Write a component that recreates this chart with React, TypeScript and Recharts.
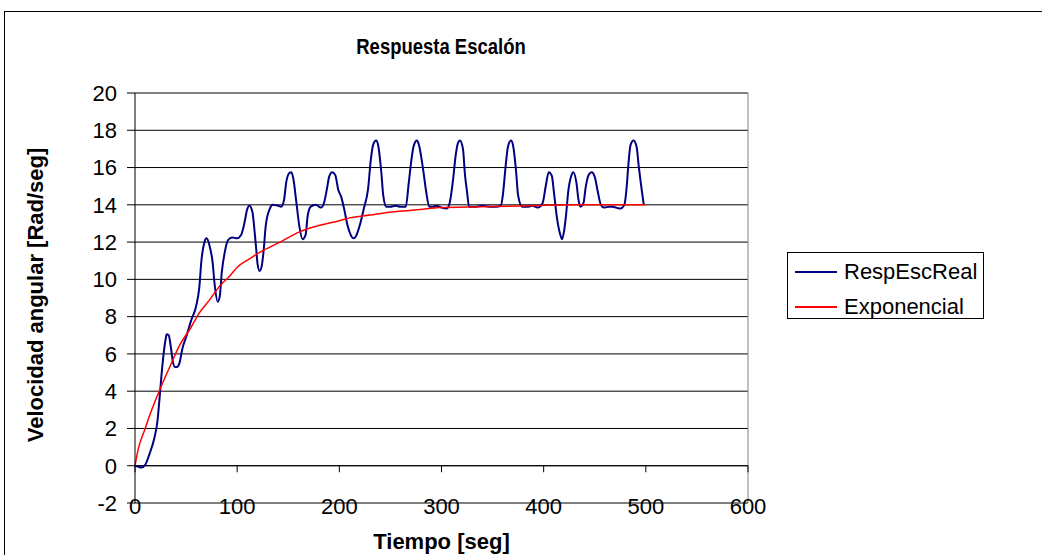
import React from 'react';
import { LineChart, Line, XAxis, YAxis, CartesianGrid, Legend, ReferenceLine } from 'recharts';

const FONT = '"Liberation Sans", Arial, sans-serif';

const xTicks = [0, 100, 200, 300, 400, 500, 600];
const yTicks = [-2, 0, 2, 4, 6, 8, 10, 12, 14, 16, 18, 20];
const seriesNames = ['RespEscReal', 'Exponencial'];

// RespEscReal: measured step response (seconds, rad/s)
const realTimes = [
  0, 3, 6, 10, 14, 19, 22, 24, 26, 28, 30, 31, 33, 35, 37, 39, 41, 44, 46, 50,
  55, 60, 63, 65, 68, 70, 73, 76, 78, 81, 83, 85, 88, 91, 95, 100, 104, 107, 110, 112,
  115, 117, 119, 120, 122, 124, 126, 128, 132, 135, 140, 143, 146, 148, 151, 153, 155, 158, 161, 164,
  167, 169, 172, 177, 182, 185, 188, 190, 193, 196, 199, 202, 205, 208, 211, 214, 217, 220, 224, 228,
  231, 233, 236, 238, 241, 243, 246, 250, 255, 260, 265, 268, 271, 273, 276, 278, 282, 285, 288, 292,
  295, 300, 305, 308, 311, 314, 316, 318, 321, 323, 325, 327, 334, 340, 347, 353, 358, 360, 363, 365,
  368, 370, 373, 375, 379, 384, 389, 394, 399, 402, 405, 408, 410, 413, 416, 418, 420, 422, 424, 427,
  429, 432, 434, 436, 439, 441, 444, 447, 450, 453, 456, 459, 464, 467, 471, 475, 479, 481, 483, 485,
  488, 491, 493, 495, 498,
];
const realValues = [
  0, -0.05, -0.1, 0.05, 0.6, 1.5, 2.4, 3.6, 4.9, 6.0, 6.8, 7.05, 7.0, 6.4, 5.6, 5.3, 5.3, 5.6, 6.2, 6.9,
  7.8, 8.6, 9.6, 11.0, 12.0, 12.2, 11.8, 10.9, 9.7, 8.8, 9.1, 10.4, 11.5, 12.1, 12.25, 12.2, 12.4, 13.0, 13.8, 13.95,
  13.6, 12.6, 11.4, 10.8, 10.45, 10.7, 11.6, 12.9, 13.8, 14.0, 13.95, 13.9, 14.3, 15.2, 15.7, 15.75, 15.4, 14.1, 12.8, 12.15,
  12.4, 13.4, 13.9, 14.0, 13.85, 14.1, 14.9, 15.5, 15.75, 15.6, 14.8, 14.4, 13.7, 12.9, 12.4, 12.2, 12.4, 12.9, 13.8, 14.8,
  16.5, 17.2, 17.45, 17.2, 15.8, 14.5, 13.9, 13.9, 13.95, 13.9, 13.9, 15.2, 16.6, 17.2, 17.45, 17.2, 15.9, 14.7, 13.9, 13.9,
  13.95, 13.85, 13.8, 14.1, 15.2, 16.7, 17.3, 17.45, 17.0, 15.6, 14.7, 13.9, 13.9, 13.95, 13.9, 13.9, 13.95, 14.5, 16.2, 17.1,
  17.45, 17.2, 15.8, 14.5, 13.9, 13.9, 13.95, 13.85, 14.1, 15.0, 15.75, 15.55, 14.7, 13.3, 12.45, 12.15, 12.6, 13.5, 14.7, 15.55,
  15.75, 15.2, 14.3, 13.9, 14.1, 14.9, 15.6, 15.75, 15.5, 14.7, 14.0, 13.85, 13.9, 13.9, 13.85, 13.8, 14.0, 14.8, 16.2, 17.2,
  17.45, 17.1, 16.1, 15.2, 14.0,
];

// Exponencial: fitted curve
const expTimes = [0, 3, 10, 15, 24, 34, 44, 54, 63, 73, 83, 93, 100, 112, 122, 142, 161, 181, 200, 210, 230, 249, 269, 279, 298, 337, 386, 430, 500];
const expValues = [0, 0.85, 2.0, 2.8, 4.05, 5.3, 6.5, 7.35, 8.2, 8.9, 9.65, 10.2, 10.65, 11.1, 11.45, 12.0, 12.55, 12.9, 13.15, 13.3, 13.45, 13.6, 13.7, 13.75, 13.85, 13.9, 13.95, 14.0, 14.0];

const realData = realTimes.map((t, i) => ({ t, v: realValues[i] }));
const expData = expTimes.map((t, i) => ({ t, v: expValues[i] }));

const XTick = (props: any) => {
  const { x, y, payload } = props;
  return (
    <text x={x} y={y + 3} textAnchor="middle" dominantBaseline="central" fontSize={22} fill="#000" fontFamily={FONT}>
      {payload.value}
    </text>
  );
};

const YTitle = (props: any) => {
  const { viewBox } = props;
  const cx = viewBox.x + 35;
  const cy = viewBox.y + viewBox.height / 2 - 3;
  return (
    <text
      x={cx}
      y={cy}
      transform={`rotate(-90, ${cx}, ${cy})`}
      textAnchor="middle"
      dominantBaseline="central"
      fontSize={22}
      fontWeight="bold"
      fill="#000"
      fontFamily={FONT}
    >
      Velocidad angular [Rad/seg]
    </text>
  );
};

const LegendBox = (props: any) => {
  const items = [...(props.payload || [])].sort(
    (a: any, b: any) => seriesNames.indexOf(a.value) - seriesNames.indexOf(b.value)
  );
  return (
    <div
      style={{
        width: 197,
        height: 67,
        paddingTop: 1,
        border: '1px solid #000',
        background: '#fff',
        fontFamily: FONT,
        fontSize: 22,
        color: '#000',
        boxSizing: 'border-box',
      }}
    >
      {items.map((entry: any) => (
        <div key={entry.value} style={{ display: 'flex', alignItems: 'center', height: 35 }}>
          <div style={{ width: 42, height: 0, borderTop: `2px solid ${entry.color}`, marginLeft: 7, marginRight: 7 }} />
          <span>{entry.value}</span>
        </div>
      ))}
    </div>
  );
};

export default function App() {
  return (
    <div style={{ position: 'absolute', left: 0, top: 0, width: 1042, height: 555, overflow: 'hidden', background: '#fff' }}>
      <div
        style={{
          position: 'absolute',
          left: 4,
          top: 11,
          width: 1100,
          height: 600,
          border: '1px solid #000',
        }}
      />
      <div
        style={{
          position: 'absolute',
          left: 241,
          top: 34,
          width: 400,
          textAlign: 'center',
          fontFamily: FONT,
          fontWeight: 'bold',
          fontSize: 22,
          color: '#000',
          transform: 'scaleX(0.84)',
        }}
      >
        Respuesta Escalón
      </div>
      <div style={{ position: 'absolute', left: 0, top: 0 }}>
        <LineChart width={1042} height={555} margin={{ top: 93, right: 294, bottom: 0, left: 0 }}>
          <CartesianGrid horizontal vertical={false} stroke="#000" strokeWidth={1} />
          <XAxis
            dataKey="t"
            type="number"
            domain={[0, 600]}
            ticks={xTicks}
            height={52}
            axisLine={false}
            tickLine={false}
            tickSize={0}
            tickMargin={0}
            tick={<XTick />}
            label={{
              value: 'Tiempo [seg]',
              position: 'insideBottom',
              offset: 6,
              style: { fontSize: 22, fontWeight: 'bold', fill: '#000', fontFamily: FONT },
            }}
          />
          <YAxis
            type="number"
            domain={[-2, 20]}
            ticks={yTicks}
            width={135}
            interval={0}
            axisLine={{ stroke: '#000' }}
            tickLine={{ stroke: '#000' }}
            tickSize={8}
            tickMargin={10}
            tick={{ fontSize: 22, fill: '#000', fontFamily: FONT }}
            label={<YTitle />}
          />
          <ReferenceLine y={20} stroke="#808080" />
          <ReferenceLine y={-2} stroke="#808080" />
          <ReferenceLine x={600} stroke="#808080" />
          <ReferenceLine y={0} stroke="#000" />
          {xTicks.map((t) => (
            <ReferenceLine
              key={t}
              segment={[
                { x: t, y: 0 },
                { x: t, y: -0.35 },
              ]}
              stroke="#000"
            />
          ))}
          <Legend
            layout="vertical"
            align="center"
            verticalAlign="middle"
            wrapperStyle={{ position: 'absolute', left: 787, top: 252, width: 197, height: 67 }}
            content={<LegendBox />}
          />
          <Line
            data={realData}
            dataKey="v"
            name="RespEscReal"
            type="monotone"
            stroke="#000080"
            strokeWidth={2}
            dot={false}
            isAnimationActive={false}
          />
          <Line
            data={expData}
            dataKey="v"
            name="Exponencial"
            type="monotone"
            stroke="#FF0000"
            strokeWidth={1.5}
            dot={false}
            isAnimationActive={false}
          />
        </LineChart>
      </div>
    </div>
  );
}
